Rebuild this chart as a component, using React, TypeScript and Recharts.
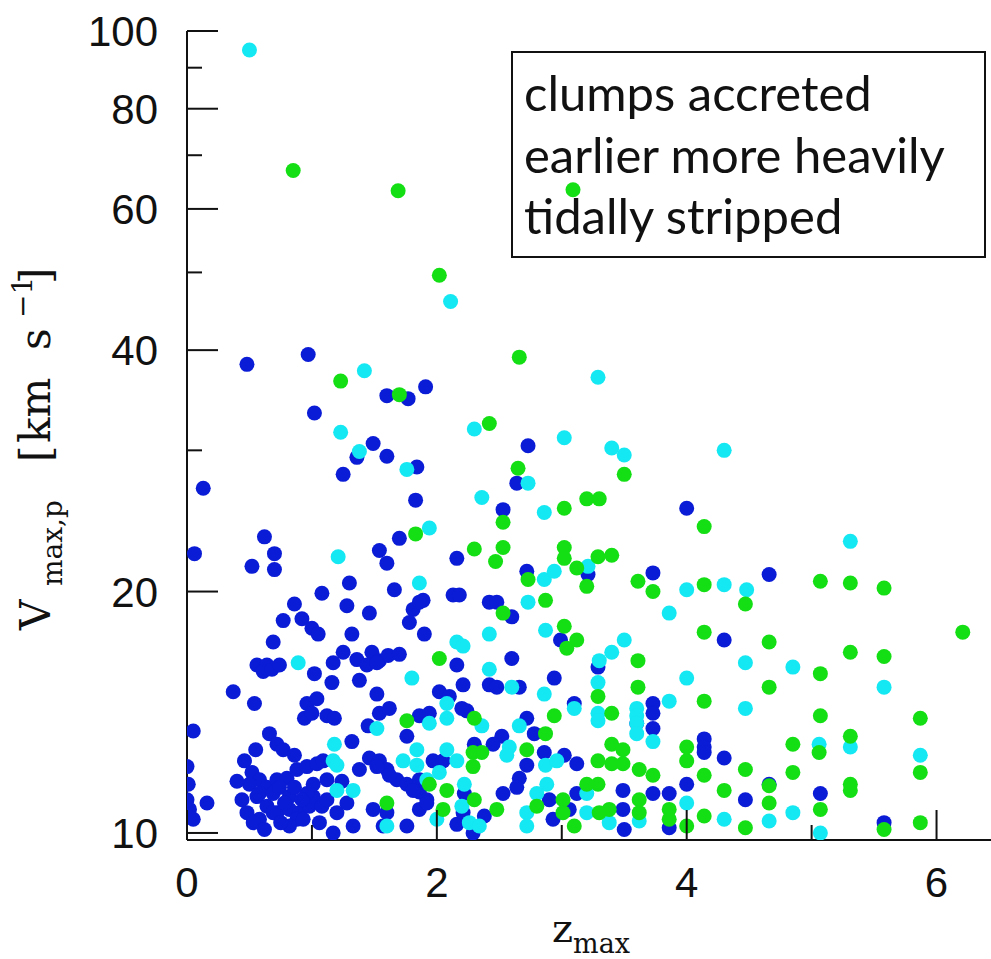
import React from 'react';
import { ScatterChart, Scatter, XAxis, YAxis } from 'recharts';

type Pt = [number, number];

// axis ticks
const xTicks = [0, 1, 2, 3, 4, 5, 6];
const xLabels = [0, 2, 4, 6];
const yTicks = [10, 20, 30, 40, 50, 60, 70, 80, 90, 100];
const yLabels = [10, 20, 40, 60, 80, 100];

// [z_max, V_max,p]
const bluePts: Pt[] = [
  [0.48, 38.4], [0.97, 39.5], [1.6, 35.1], [1.77, 34.8], [1.91, 36.0], [1.02, 33.4], [1.49, 30.6], [1.36, 29.4],
  [1.6, 29.5], [1.25, 28.0], [1.84, 28.6], [1.83, 26.0], [0.13, 26.9], [2.73, 30.4], [2.64, 27.3], [2.53, 25.3],
  [4.0, 25.4], [1.7, 23.3], [1.54, 22.5], [1.6, 21.7], [2.16, 22.0], [0.06, 22.3], [0.62, 23.4], [0.7, 22.3],
  [0.52, 21.5], [0.7, 21.3], [1.3, 20.5], [1.08, 19.9], [1.66, 20.1], [2.13, 19.8], [2.18, 19.8], [2.72, 21.2],
  [3.21, 21.0], [3.73, 21.1], [4.66, 21.0],
  [0.86, 19.3], [1.28, 19.2], [1.46, 18.8], [0.77, 18.4], [0.92, 18.5], [1.0, 18.0], [1.05, 17.7], [1.89, 19.5],
  [1.81, 19.0], [1.86, 19.4], [1.78, 18.3], [1.9, 17.7], [1.32, 17.7], [0.69, 17.3], [1.25, 16.8],
  [0.56, 16.2], [0.64, 16.2], [0.61, 15.9], [0.68, 16.0], [0.74, 16.2],
  [1.17, 16.3], [1.36, 16.45], [1.48, 16.8], [1.54, 16.4], [1.61, 16.65], [1.7, 16.7], [1.44, 16.2], [1.52, 16.3],
  [2.16, 16.2], [1.02, 15.8], [1.16, 15.4], [1.38, 15.5], [0.37, 15.0], [0.54, 14.5], [1.52, 14.9], [2.21, 15.3],
  [2.02, 15.0], [2.1, 14.8],
  [0.96, 14.5], [1.04, 14.7], [0.94, 13.9], [1.0, 14.1], [1.12, 14.0], [1.18, 13.9], [1.54, 14.1], [1.62, 14.3],
  [1.45, 13.6], [1.86, 14.0], [1.94, 14.1], [2.24, 14.2],
  [0.05, 13.4], [0.66, 13.3], [0.72, 12.9], [0.77, 12.7], [1.32, 13.0], [1.76, 13.2],
  [0.0, 12.1], [0.01, 11.5],
  [0.46, 12.3], [0.52, 11.9], [0.58, 11.65], [0.5, 11.5], [0.64, 11.4], [0.72, 11.65], [0.8, 11.7], [0.88, 12.0],
  [0.96, 12.1], [1.04, 12.2], [1.09, 12.3],
  [1.38, 12.0], [1.46, 12.4], [1.54, 12.3], [1.6, 12.0], [1.68, 11.65], [1.76, 11.5], [1.86, 11.25], [1.92, 11.0],
  [1.97, 12.3], [2.05, 12.3],
  [0.02, 10.7], [0.16, 10.9], [0.05, 10.4], [0.0, 11.0],
  [0.56, 11.1], [0.64, 10.8], [0.72, 10.6], [0.82, 10.7], [0.9, 10.6], [0.98, 10.8], [1.01, 11.1], [0.88, 10.4],
  [0.58, 10.4], [0.69, 10.6], [0.82, 10.2], [0.93, 10.4],
  [0.58, 11.2], [0.69, 11.2], [0.74, 11.4], [0.96, 11.2], [0.82, 11.1], [1.01, 11.5], [1.12, 11.65],
  [0.44, 11.0], [0.48, 10.6], [0.53, 10.3], [0.62, 10.1], [0.75, 10.3], [0.78, 10.9], [0.86, 11.4], [0.92, 11.0],
  [1.06, 10.3], [1.08, 10.8], [0.4, 11.6], [0.55, 12.7], [0.86, 12.5], [1.24, 11.6], [1.28, 10.9],
  [1.12, 11.0], [1.2, 10.6], [1.33, 10.2], [1.17, 10.0],
  [1.49, 10.7], [1.6, 10.6], [1.57, 10.2], [1.76, 10.2], [1.86, 10.7], [1.92, 10.9],
  [2.16, 10.25], [2.29, 10.0], [1.62, 11.8], [1.52, 12.1], [1.86, 11.65], [1.81, 11.3],
  [2.42, 19.4], [2.48, 19.4], [2.6, 18.6], [2.99, 17.4], [3.29, 16.1], [4.3, 17.4], [2.6, 16.5], [2.42, 15.3],
  [2.48, 15.2], [2.66, 15.2], [2.94, 15.6], [3.1, 14.5], [3.73, 14.5], [3.73, 14.1], [3.73, 13.5], [3.6, 13.7],
  [2.2, 14.3], [2.72, 13.9], [2.78, 13.3], [2.3, 12.9], [2.52, 13.2], [2.45, 12.9], [2.86, 12.6], [3.02, 12.5],
  [3.12, 12.2], [4.14, 13.1], [4.14, 12.8], [4.14, 12.6], [4.3, 12.4], [4.0, 11.5], [4.47, 11.0], [3.86, 11.2],
  [3.86, 10.15], [3.73, 11.2], [3.49, 11.3], [3.49, 10.7], [3.5, 10.1], [3.12, 11.2], [3.06, 10.7], [2.9, 11.0],
  [2.93, 10.4], [2.66, 11.7], [2.64, 11.4], [2.72, 12.15], [2.53, 11.2], [2.38, 10.5], [2.22, 11.2], [2.21, 10.6],
  [4.66, 11.5], [5.07, 11.2], [5.58, 10.3],
];

const cyanPts: Pt[] = [
  [0.5, 94.7], [2.11, 46.0], [1.42, 37.7], [1.23, 31.6], [1.38, 29.9], [1.76, 28.4], [2.3, 31.9], [1.94, 24.0],
  [1.21, 22.1], [1.86, 20.5], [3.29, 37.0], [3.02, 31.1], [3.4, 30.2], [3.5, 29.6], [4.3, 30.0], [2.73, 27.3],
  [2.36, 26.2], [2.86, 25.1], [3.21, 21.5], [2.86, 20.7], [2.94, 21.2], [4.0, 20.1], [4.3, 20.4], [4.48, 20.1],
  [5.31, 23.1], [4.47, 16.3], [4.85, 16.1], [5.58, 15.2], [4.47, 14.3], [5.06, 12.9], [5.31, 12.8], [5.87, 12.5],
  [4.85, 10.6], [4.66, 10.35], [5.07, 10.0], [0.89, 16.3], [2.16, 17.3], [2.21, 17.1], [1.8, 15.6], [1.52, 13.5],
  [1.94, 13.7], [2.08, 13.9], [2.08, 14.5], [1.18, 12.9], [1.84, 12.7], [2.08, 12.7], [1.17, 12.3], [1.2, 12.15],
  [1.73, 12.3], [1.84, 12.15], [1.92, 11.65], [2.02, 11.9], [2.16, 12.3], [1.2, 11.3], [1.33, 11.3], [1.6, 10.2],
  [2.0, 10.4], [2.26, 10.3], [2.73, 19.4], [3.86, 18.8], [2.42, 17.7], [2.87, 17.9], [3.5, 17.4], [3.4, 16.8],
  [3.3, 16.4], [2.42, 16.0], [2.6, 15.2], [2.86, 14.9], [3.29, 15.4], [4.0, 15.6], [3.1, 14.3], [3.29, 14.1],
  [3.29, 13.8], [3.86, 14.6], [3.6, 14.3], [3.6, 14.0], [3.6, 13.7], [3.6, 13.3], [3.73, 13.0], [2.36, 13.6],
  [2.66, 13.6], [2.58, 12.8], [2.56, 12.5], [2.87, 12.15], [2.96, 12.3], [4.0, 10.9], [4.3, 10.4], [3.62, 10.35],
  [3.38, 10.3], [3.2, 11.2], [3.2, 10.6], [2.88, 11.5], [2.8, 11.2], [2.72, 10.6], [2.72, 10.2], [2.34, 10.2],
  [2.22, 11.5], [2.2, 10.8],
];

const greenPts: Pt[] = [
  [0.85, 67.0], [1.69, 63.2], [3.09, 63.4], [2.02, 49.6], [1.23, 36.6], [1.7, 35.2], [1.83, 23.6], [2.3, 22.6],
  [2.66, 39.2], [2.42, 32.4], [2.65, 28.5], [3.5, 28.0], [2.53, 24.4], [3.02, 25.4], [3.2, 26.1], [3.3, 26.1],
  [4.14, 24.1], [2.53, 22.7], [2.47, 21.8], [3.02, 22.7], [3.02, 22.0], [3.12, 21.4], [3.29, 22.1], [3.4, 22.2],
  [3.2, 20.3], [2.73, 20.7], [3.61, 20.6], [3.73, 20.0], [4.14, 20.4], [5.07, 20.6], [5.31, 20.5], [5.58, 20.2],
  [4.47, 19.3], [6.21, 17.8], [4.66, 17.3], [5.31, 16.8], [5.58, 16.6], [5.07, 15.8], [4.66, 15.2], [5.07, 14.0],
  [5.87, 13.9], [4.85, 12.9], [5.06, 12.6], [5.31, 13.2], [5.87, 11.9], [4.47, 12.0], [4.85, 11.9], [5.31, 11.5],
  [5.31, 11.3], [4.66, 11.45], [4.66, 10.9], [5.07, 10.7], [4.47, 10.15], [5.58, 10.1], [5.87, 10.3], [2.53, 18.8],
  [2.87, 19.5], [3.02, 18.1], [3.12, 17.4], [3.04, 17.0], [3.61, 16.4], [4.14, 17.8], [3.61, 15.2], [3.29, 14.8],
  [3.4, 14.1], [4.14, 14.6], [2.94, 14.0], [2.87, 13.3], [2.3, 13.9], [2.36, 12.6], [2.72, 12.7], [3.29, 12.3],
  [3.4, 12.9], [3.49, 12.7], [3.4, 12.2], [3.49, 12.2], [3.62, 12.0], [3.73, 11.8], [4.0, 12.8], [4.0, 12.3],
  [4.14, 11.8], [4.3, 11.3], [4.14, 10.5], [4.0, 10.2], [3.86, 10.7], [3.86, 10.4], [3.62, 11.0], [3.62, 10.6],
  [3.38, 10.7], [3.3, 10.6], [3.29, 11.5], [3.2, 11.5], [3.1, 10.2], [3.01, 11.0], [3.01, 10.6], [2.8, 10.8],
  [2.48, 10.7], [2.3, 11.0], [2.02, 16.5], [1.76, 13.8], [1.94, 11.5], [2.08, 11.3], [2.05, 10.7], [2.29, 12.1],
  [2.29, 12.6], [1.6, 10.9],
];

const toRows = (pts: Pt[]) => pts.map(([z, v]) => ({ z, v }));

const INK = '#111';
const TICK_FONT = "'Liberation Sans', Arial, sans-serif";
const LABEL_FONT = "'DejaVu Serif', serif";

const dot = (color: string) => (props: any) => (
  <circle cx={props.cx} cy={props.cy} r={7.5} fill={color} />
);

const BottomTick = ({ x, y, payload }: any) => {
  const major = xLabels.includes(payload.value);
  return (
    <g>
      <line x1={x} x2={x} y1={y} y2={y - (major ? 30 : 15)} stroke={INK} strokeWidth={2} />
      {major && (
        <text x={x} y={y + 57} textAnchor="middle" fontSize={42} fontFamily={TICK_FONT} fill={INK}>
          {payload.value}
        </text>
      )}
    </g>
  );
};

const TopTick = ({ x, y, payload }: any) => {
  const major = xLabels.includes(payload.value);
  return <line x1={x} x2={x} y1={y} y2={y + (major ? 30 : 15)} stroke={INK} strokeWidth={2} />;
};

const LeftTick = ({ x, y, payload }: any) => {
  const major = yLabels.includes(payload.value);
  return (
    <g>
      <line x1={x} x2={x + (major ? 31 : 15)} y1={y} y2={y} stroke={INK} strokeWidth={2} />
      {major && (
        <text x={x - 29} y={y + 15} textAnchor="end" fontSize={42} fontFamily={TICK_FONT} fill={INK}>
          {payload.value}
        </text>
      )}
    </g>
  );
};

const RightTick = ({ x, y, payload }: any) => {
  const major = yLabels.includes(payload.value);
  return <line x1={x} x2={x - (major ? 31 : 15)} y1={y} y2={y} stroke={INK} strokeWidth={2} />;
};

const axisLine = { stroke: INK, strokeWidth: 2 };

export default function App() {
  return (
    <div style={{ position: 'absolute', left: 0, top: 0, width: 991, height: 959, overflow: 'hidden', background: '#fff' }}>
      <ScatterChart width={1020} height={959} margin={{ top: 31, right: 21, bottom: 0, left: 0 }}>
        <XAxis
          dataKey="z"
          type="number"
          domain={[0, 6.5]}
          ticks={xTicks}
          interval={0}
          allowDataOverflow
          height={119}
          tickSize={0}
          tickMargin={0}
          tickLine={false}
          axisLine={axisLine}
          tick={<BottomTick />}
        />
        <XAxis
          xAxisId="top"
          orientation="top"
          type="number"
          domain={[0, 6.5]}
          ticks={xTicks}
          interval={0}
          allowDataOverflow
          height={0}
          tickSize={0}
          tickMargin={0}
          tickLine={false}
          axisLine={axisLine}
          tick={<TopTick />}
        />
        <YAxis
          dataKey="v"
          type="number"
          scale="log"
          domain={[9.8, 100]}
          ticks={yTicks}
          interval={0}
          allowDataOverflow
          width={187}
          tickSize={0}
          tickMargin={0}
          tickLine={false}
          axisLine={axisLine}
          tick={<LeftTick />}
        />
        <YAxis
          yAxisId="right"
          orientation="right"
          type="number"
          scale="log"
          domain={[9.8, 100]}
          ticks={yTicks}
          interval={0}
          allowDataOverflow
          width={0}
          tickSize={0}
          tickMargin={0}
          tickLine={false}
          axisLine={axisLine}
          tick={<RightTick />}
        />

        <g>
          <rect x={512} y={52} width={473} height={205} fill="none" stroke={INK} strokeWidth={2} />
          <text fontFamily="Lato, 'Open Sans', sans-serif" fontSize={49} fill={INK}>
            <tspan x={524} y={111}>clumps accreted</tspan>
            <tspan x={524} y={173}>earlier more heavily</tspan>
            <tspan x={524} y={234}>tidally stripped</tspan>
          </text>
        </g>

        <Scatter data={toRows(bluePts)} shape={dot('#0b1cd6')} isAnimationActive={false} />
        <Scatter data={toRows(cyanPts)} shape={dot('#14e8f2')} isAnimationActive={false} />
        <Scatter data={toRows(greenPts)} shape={dot('#14df14')} isAnimationActive={false} />

        <text transform="translate(50, 630) rotate(-90)" fontFamily={LABEL_FONT} fontSize={42} fill={INK}>
          <tspan x={0} y={0}>V</tspan>
          <tspan x={44} y={12} fontSize={28}>max,p</tspan>
          <tspan x={168} y={0}>[</tspan>
          <tspan x={187} y={0}>km</tspan>
          <tspan x={280} y={0}>s</tspan>
          <tspan x={312} y={-18} fontSize={28}>−1</tspan>
          <tspan x={346} y={0}>]</tspan>
        </text>
        <text x={552} y={942} fontFamily={LABEL_FONT} fontSize={40} fill={INK}>
          z<tspan fontSize={27} dy={11}>max</tspan>
        </text>
      </ScatterChart>
    </div>
  );
}
